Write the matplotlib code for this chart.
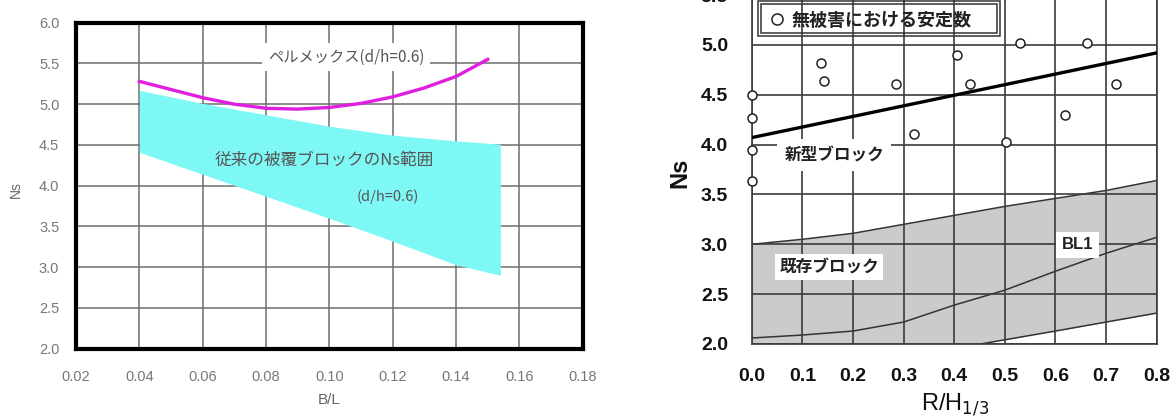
import numpy as np
import matplotlib
matplotlib.use("Agg")
from matplotlib import pyplot as plt
from matplotlib.lines import Line2D
from matplotlib.patches import Rectangle

plt.rcParams['font.family'] = ['Noto Sans CJK JP', 'DejaVu Sans']

# --- left: B/L vs Ns ---
perm_x = [0.040, 0.053, 0.060, 0.070, 0.080, 0.090, 0.100, 0.110, 0.120, 0.130, 0.140, 0.150]
perm_y = [5.28, 5.15, 5.08, 5.00, 4.95, 4.94, 4.96, 5.01, 5.09, 5.20, 5.34, 5.55]

band_x = [0.040, 0.060, 0.080, 0.100, 0.120, 0.140, 0.154]
band_top = [5.17, 5.01, 4.87, 4.73, 4.62, 4.55, 4.51]
band_bot = [4.41, 4.14, 3.87, 3.60, 3.32, 3.03, 2.90]

left_xticks = [0.02, 0.04, 0.06, 0.08, 0.10, 0.12, 0.14, 0.16, 0.18]
left_yticks = [2.0, 2.5, 3.0, 3.5, 4.0, 4.5, 5.0, 5.5, 6.0]

# --- right: R/H1/3 vs Ns ---
pts_x = [0.0, 0.0, 0.0, 0.0, 0.137, 0.143, 0.286, 0.321, 0.406, 0.432, 0.503, 0.529, 0.618, 0.663, 0.719]
pts_y = [4.50, 4.27, 3.95, 3.63, 4.82, 4.64, 4.61, 4.11, 4.90, 4.61, 4.03, 5.02, 4.30, 5.02, 4.61]

new_x = [0.0, 0.8]
new_y = [4.07, 4.92]

grid_x = [0.0, 0.1, 0.2, 0.3, 0.4, 0.5, 0.6, 0.7, 0.8]
upper_y = [3.00, 3.05, 3.11, 3.20, 3.29, 3.38, 3.46, 3.54, 3.64]
bl1_y = [2.06, 2.09, 2.13, 2.22, 2.39, 2.54, 2.73, 2.91, 3.07]
lower_x = [0.452, 0.6, 0.7, 0.8]
lower_y = [2.00, 2.13, 2.22, 2.31]

right_yticks = [2.0, 2.5, 3.0, 3.5, 4.0, 4.5, 5.0, 5.5]

fig = plt.figure(figsize=(11.74, 4.18), dpi=100)

# left panel
ax1 = fig.add_axes([76/1174, 1-348.7/418, 506.7/1174, 326/418])
ax1.fill_between(band_x, band_bot, band_top, color='#7ef8f5', lw=0, zorder=2)
ax1.plot(perm_x, perm_y, color='#e01ee0', lw=2.4, zorder=3)
ax1.set_xlim(0.02, 0.18)
ax1.set_ylim(2.0, 6.0)
ax1.set_xticks(left_xticks)
ax1.set_yticks(left_yticks)
ax1.set_xticklabels(['%.2f' % v for v in left_xticks])
ax1.set_yticklabels(['%.1f' % v for v in left_yticks])
ax1.grid(True, color='#6e6e6e', lw=1.1, zorder=1)
ax1.set_axisbelow(True)
for s in ax1.spines.values():
    s.set_linewidth(3)
    s.set_color('black')
ax1.tick_params(length=0, labelcolor='#777777', labelsize=10.5)
ax1.tick_params(axis='y', pad=12)
ax1.tick_params(axis='x', pad=15)
for lab in ax1.get_xticklabels() + ax1.get_yticklabels():
    lab.set_family('Liberation Sans')
ax1.set_xlabel('B/L', color='#666666', fontsize=11, family='Liberation Sans')
ax1.set_ylabel('Ns', color='#666666', fontsize=10, family='Liberation Sans')
ax1.xaxis.set_label_coords(0.5, -0.135)
ax1.yaxis.set_label_coords(-0.105, 0.487)

ax1.text(0.1053, 5.58, 'ペルメックス(d/h=0.6)', ha='center', va='center', fontsize=11,
         color='#555555', zorder=4,
         bbox=dict(facecolor='white', edgecolor='none', pad=4))
ax1.text(0.0984, 4.315, '従来の被覆ブロックのNs範囲', ha='center', va='center',
         fontsize=12, color='#555555', zorder=4)
ax1.text(0.1186, 3.86, '(d/h=0.6)', ha='center', va='center', fontsize=10.5,
         color='#555555', zorder=4)

# right panel
ax2 = fig.add_axes([751.7/1174, 1-344/418, 405/1174, 3.7*99.7/418])
ax2.fill_between(grid_x, 2.0, upper_y, color='#cbcbcb', lw=0, zorder=0.5)
ax2.fill_between(lower_x, 2.0, lower_y, color='white', lw=0, zorder=0.6)
ax2.plot(grid_x, upper_y, color='#333333', lw=1.1, zorder=2)
ax2.plot(grid_x, bl1_y, color='#333333', lw=1.1, zorder=2)
ax2.plot(lower_x, lower_y, color='#333333', lw=1.1, zorder=2)
ax2.plot(new_x, new_y, color='black', lw=2.4, zorder=3)
ax2.plot(pts_x, pts_y, ls='none', marker='o', ms=6.5, mfc='white', mec='#222222',
         mew=1.1, zorder=4, clip_on=False)
ax2.set_xlim(0.0, 0.8)
ax2.set_ylim(2.0, 5.7)
ax2.set_xticks(grid_x)
ax2.set_yticks(right_yticks)
ax2.set_xticklabels(['%.1f' % v for v in grid_x])
ax2.set_yticklabels(['%.1f' % v for v in right_yticks])
ax2.grid(True, color='#3c3c3c', lw=1.2, zorder=1)
ax2.set_axisbelow(False)
for s in ax2.spines.values():
    s.set_linewidth(1.2)
    s.set_color('#3c3c3c')
ax2.tick_params(length=0, labelcolor='#111111', labelsize=14, pad=17)
for lab in ax2.get_xticklabels() + ax2.get_yticklabels():
    lab.set_family('Liberation Sans')
    lab.set_weight('bold')
ax2.set_xlabel('R/H$_{1/3}$', fontsize=17, family='Liberation Sans', color='#111111')
ax2.set_ylabel('Ns', fontsize=17, family='Liberation Sans', weight='bold', color='#111111')
ax2.xaxis.set_label_coords(0.502, -0.13)
ax2.yaxis.set_label_coords(-0.15, 0.463)

ax2.text(0.163, 3.896, '新型ブロック', ha='center', va='center', fontsize=12,
         weight='bold', color='#222222', zorder=5,
         bbox=dict(facecolor='white', edgecolor='none', pad=5))
ax2.text(0.153, 2.772, '既存ブロック', ha='center', va='center', fontsize=12,
         weight='bold', color='#222222', zorder=5,
         bbox=dict(facecolor='white', edgecolor='none', pad=3))
ax2.text(0.644, 2.993, 'BL1', ha='center', va='center', fontsize=12,
         weight='bold', color='#222222', family='Liberation Sans', zorder=5,
         bbox=dict(facecolor='white', edgecolor='none', pad=4))

handle = Line2D([], [], ls='none', marker='o', ms=8, mfc='white', mec='#222222', mew=1.1)
leg = ax2.legend([handle], ['無被害における安定数'], loc='upper left',
                 bbox_to_anchor=(764/1174, 1-9/418), bbox_transform=fig.transFigure,
                 borderaxespad=0, borderpad=0.1, handletextpad=0.25, handlelength=1.2,
                 frameon=False,
                 prop=dict(family=['Noto Sans CJK JP'], weight='bold', size=13))
for t in leg.get_texts():
    t.set_color('#222222')

# double outline round the legend
fig.canvas.draw()
bb = leg.get_window_extent()
for grow in (0, 3):
    x0 = bb.x0 - 3 - grow
    y0 = bb.y0 - 1 - grow
    fig.add_artist(Rectangle((x0, y0), bb.width + 26 + 2 * grow, bb.height + 6 + 2 * grow,
                             fill=False, edgecolor='#333333', lw=1.1, transform=None))

fig.savefig('out.png', dpi=100)
